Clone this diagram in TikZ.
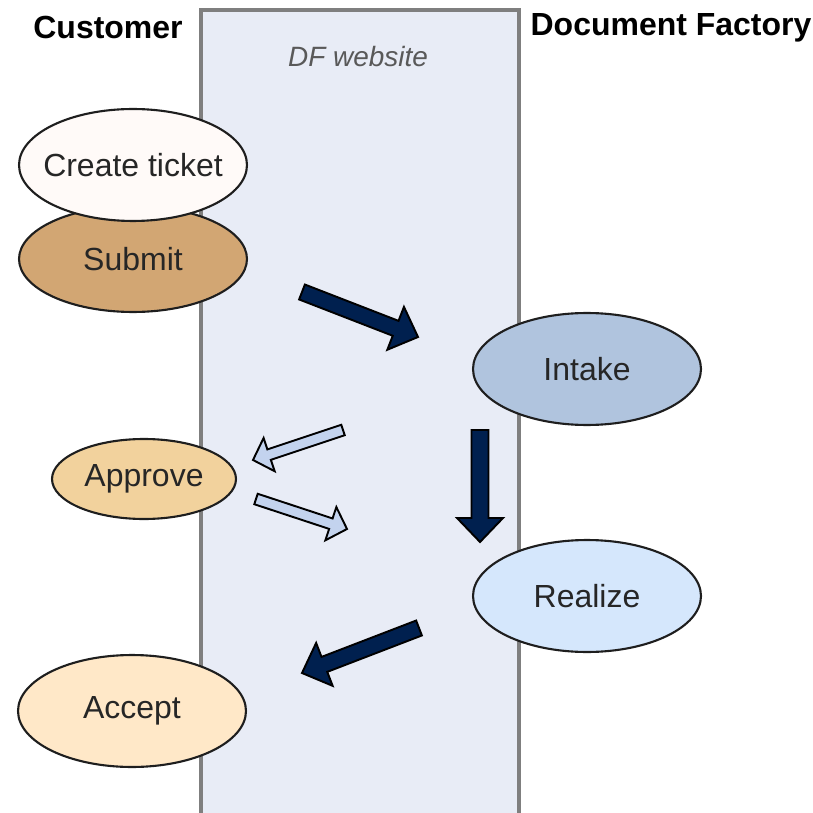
\documentclass[tikz,border=0pt]{standalone}
\usepackage{fontspec}
\setmainfont{Liberation Sans}
\usepackage{tikz}
\usetikzlibrary{calc,shapes.geometric}

\definecolor{webfill}{HTML}{E8ECF6}
\definecolor{lanegray}{HTML}{7F7F7F}
\definecolor{outline}{HTML}{1E1E1E}
\definecolor{textgray}{HTML}{262626}
\definecolor{ticketfill}{HTML}{FFFAF8}
\definecolor{submitfill}{HTML}{D2A673}
\definecolor{intakefill}{HTML}{B0C4DE}
\definecolor{approvefill}{HTML}{F2D29D}
\definecolor{realizefill}{HTML}{D5E7FC}
\definecolor{acceptfill}{HTML}{FFE8C8}
\definecolor{navy}{HTML}{00204F}
\definecolor{paleblue}{HTML}{C3D3EE}

% block arrow: style, tail, tip, shaft half width, head half width, head length
\newcommand{\blockarrow}[6]{%
  \coordinate (#2-base) at ($(#3)!#6!(#2)$);
  \draw[#1] ($(#2)!#4!90:(#3)$) -- ($(#2-base)!#4!90:(#3)$) -- ($(#2-base)!#5!90:(#3)$)
    -- (#3) -- ($(#2-base)!#5!-90:(#3)$) -- ($(#2-base)!#4!-90:(#3)$) -- ($(#2)!#4!-90:(#3)$) -- cycle;}

\tikzset{
  lane/.style={draw=lanegray, line width=0.08cm, fill=webfill},
  stage/.style={ellipse, draw=outline, line width=1.2pt, inner sep=0pt,
    minimum width=4.56cm, minimum height=2.24cm, text=textgray,
    font=\fontsize{18.2}{20}\selectfont},
  heading/.style={font=\bfseries\fontsize{18.2}{20}\selectfont},
  darkarrow/.style={fill=navy, draw=black, line width=1.1pt},
  lightarrow/.style={fill=paleblue, draw=black, line width=1.1pt},
}

\begin{document}
\begin{tikzpicture}[x=0.02cm,y=-0.02cm]

\useasboundingbox (0,0) rectangle (813,813);

\draw[lane] (201,10) rectangle (519,840);

\node [heading] (customer) at (108,28) {Customer};
\node [heading] (factory) at (671,28) {Document Factory};
\node [font=\itshape\fontsize{15.9}{18}\selectfont, text=black!65] (website) at (358,57) {DF website};

\node [stage, fill=submitfill, minimum height=2.12cm] (submit) at (133,259) {Submit};
\node [stage, fill=ticketfill, inner xsep=-0.3cm] (ticket) at (133,165) {Create ticket};
\node [stage, fill=intakefill] (intake) at (587,369) {Intake};
\node [stage, fill=approvefill, minimum width=3.68cm, minimum height=1.6cm] (approve) at (144,479) {Approve};
\node [stage, fill=realizefill] (realize) at (587,596) {Realize};
\node [stage, fill=acceptfill] (accept) at (132,711) {Accept};

\coordinate [] (t1) at (302,292);
\coordinate [] (h1) at (418,337);
\coordinate [] (t2) at (480,430);
\coordinate [] (h2) at (480,542);
\coordinate [] (t3) at (419,628);
\coordinate [] (h3) at (302,673);
\coordinate [] (t4) at (343,430);
\coordinate [] (h4) at (253,460);
\coordinate [] (t5) at (256,499);
\coordinate [] (h5) at (347,529);

\blockarrow{darkarrow}{t1}{h1}{0.16cm}{0.46cm}{0.48cm}
\blockarrow{darkarrow}{t2}{h2}{0.17cm}{0.46cm}{0.48cm}
\blockarrow{darkarrow}{t3}{h3}{0.16cm}{0.46cm}{0.48cm}
\blockarrow{lightarrow}{t4}{h4}{0.11cm}{0.35cm}{0.34cm}
\blockarrow{lightarrow}{t5}{h5}{0.11cm}{0.35cm}{0.34cm}

\end{tikzpicture}
\end{document}
